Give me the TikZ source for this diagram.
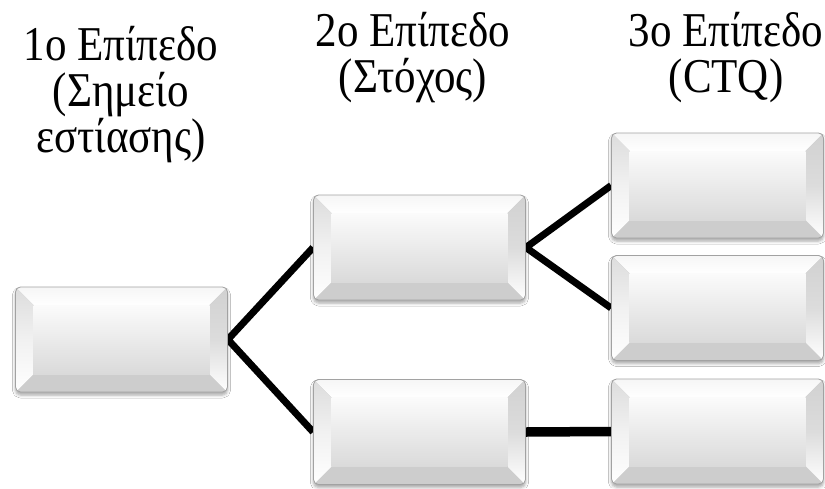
\documentclass[tikz,border=0pt]{standalone}
\usepackage{graphicx}
\usepackage{fontspec}
\setmainfont{Liberation Serif}
\usetikzlibrary{calc,backgrounds,shadows.blur}

\definecolor{edgegray}{HTML}{A2A2A2}
\definecolor{facetop}{HTML}{FBFBFB}
\definecolor{facebottom}{HTML}{DADADA}
\definecolor{bevtop}{HTML}{F6F6F6}
\definecolor{bevside}{HTML}{DCDCDC}
\definecolor{bevbottom}{HTML}{CDCDCD}

\newcommand{\bevelw}{18pt}
% heading lines are set in a tall, narrow cut
\newcommand{\tallline}[1]{\scalebox{1}[1.13]{#1}}

\tikzset{
  bevelbox/.style={
    rectangle, rounded corners=5pt, inner sep=0pt,
    minimum width=212pt, minimum height=105pt,
    draw=edgegray, line width=0.8pt, fill=bevbottom,
    blur shadow={shadow xshift=0pt, shadow yshift=-3pt,
                 shadow blur radius=3pt, shadow opacity=35},
    path picture={
      \coordinate (bsw) at (path picture bounding box.south west);
      \coordinate (bne) at (path picture bounding box.north east);
      \coordinate (bnw) at (bsw |- bne);
      \coordinate (bse) at (bne |- bsw);
      % bottom bevel
      \fill[sharp corners, bevbottom]
        (bsw) -- (bse) -- ($(bse)+(-\bevelw,\bevelw)$) -- ($(bsw)+(\bevelw,\bevelw)$) -- cycle;
      % top bevel
      \fill[sharp corners, top color=bevtop, bottom color=white]
        (bnw) -- (bne) -- ($(bne)+(-\bevelw,-\bevelw)$) -- ($(bnw)+(\bevelw,-\bevelw)$) -- cycle;
      % left bevel
      \fill[sharp corners, top color=bevside, bottom color=white, middle color=white!60!bevside]
        (bnw) -- ($(bnw)+(\bevelw,-\bevelw)$) -- ($(bsw)+(\bevelw,\bevelw)$) -- (bsw) -- cycle;
      % right bevel
      \fill[sharp corners, top color=bevside!95!black, bottom color=white, middle color=bevside]
        (bne) -- ($(bne)+(-\bevelw,-\bevelw)$) -- ($(bse)+(-\bevelw,\bevelw)$) -- (bse) -- cycle;
      % face
      \fill[sharp corners, top color=facetop, bottom color=facebottom]
        ($(bnw)+(\bevelw,-\bevelw)$) rectangle ($(bse)+(-\bevelw,\bevelw)$);
    }
  },
  conn/.style={draw=black, line width=7pt, line join=miter},
  heading/.style={font=\fontsize{43}{46}\selectfont, align=center,
                  inner sep=0pt, anchor=north}
}

\begin{document}
\begin{tikzpicture}[x=1pt,y=-1pt]
\useasboundingbox (0,0) rectangle (825,488);

% headings
\node[heading] (h1) at (121,26) {\tallline{1ο Επίπεδο}\\\tallline{(Σημείο}\\\tallline{εστίασης)}};
\node[heading] (h2) at (413,12) {\tallline{2ο Επίπεδο}\\\tallline{(Στόχος)}};
\node[heading] (h3) at (726,12) {\tallline{3ο Επίπεδο}\\\tallline{(CTQ)}};

% boxes
\node[bevelbox] (L)  at (121.5,339.5) {};
\node[bevelbox] (M1) at (419.5,247.5) {};
\node[bevelbox] (M2) at (419.5,432)   {};
\node[bevelbox] (R1) at (717.5,185.5) {};
\node[bevelbox] (R2) at (717.5,308)   {};
\node[bevelbox] (R3) at (717.5,431.5) {};

% connectors, behind the boxes
\begin{scope}[on background layer]
  \fill[white] (0,0) rectangle (825,488);
  \draw[conn] (M1.west) -- (L.east) -- (M2.west);
  \draw[conn] (R1.west) -- (M1.east) -- (R2.west);
  \draw[conn, line width=9.5pt] (M2.east) -- (R3.west);
\end{scope}
\end{tikzpicture}
\end{document}
